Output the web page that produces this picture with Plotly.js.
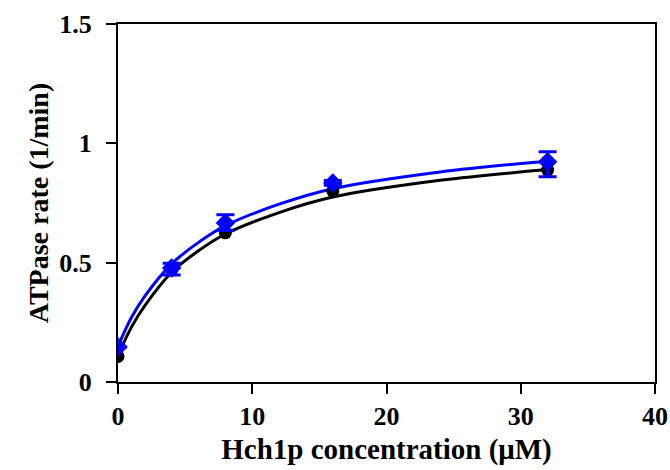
<!DOCTYPE html>
<html>
<head>
<meta charset="utf-8">
<script src="https://cdn.plot.ly/plotly-3.0.1.min.js"></script>
<style>html,body{margin:0;padding:0;background:#fff;}#chart{width:670px;height:470px;}</style>
</head>
<body>
<div id="chart"></div>
<script>
// Measured data points
const concentrations = [0, 4, 8, 16, 32];
const blackRates = [0.107, 0.47, 0.625, 0.80, 0.888];
const blueRates = [0.147, 0.478, 0.666, 0.834, 0.923];
const blueErrPlus = [0, 0.02, 0.035, 0.01, 0.042];
const blueErrMinus = [0, 0.03, 0.03, 0.01, 0.063];

// Fitted curves
const fitX = [0, 1, 2, 4, 6, 8, 12, 16, 24, 32];
const blackFit = [0.11, 0.23, 0.32, 0.46, 0.55, 0.62, 0.71, 0.775, 0.845, 0.89];
const blueFit = [0.15, 0.27, 0.36, 0.495, 0.585, 0.655, 0.745, 0.81, 0.88, 0.925];

const xTicks = [0, 10, 20, 30, 40];
const yTicks = [0, 0.5, 1, 1.5];
const yTickText = ['0', '0.5', '1', '1.5'];

const serif = 'Liberation Serif, Times New Roman, serif';
const pad = '<span style="font-size:18px;color:rgba(0,0,0,0)">0</span>';

const traces = [
  {x: fitX, y: blackFit, mode: 'lines', line: {color: '#000', width: 3, shape: 'spline'}, hoverinfo: 'skip'},
  {x: fitX, y: blueFit, mode: 'lines', line: {color: '#0000ff', width: 3, shape: 'spline'}, hoverinfo: 'skip'},
  {x: concentrations, y: blackRates, mode: 'markers', marker: {symbol: 'circle', size: 13, color: '#000'}},
  {x: concentrations, y: blueRates, mode: 'markers',
   marker: {symbol: 'diamond', size: 15, color: '#0000ff'},
   error_y: {type: 'data', symmetric: false, array: blueErrPlus, arrayminus: blueErrMinus, color: '#0000ff', thickness: 3, width: 9}}
];

const layout = {
  width: 670, height: 470,
  margin: {l: 117.5, r: 15, t: 24, b: 88},
  paper_bgcolor: '#fff', plot_bgcolor: '#fff',
  showlegend: false,
  font: {family: serif, color: '#000', size: 26},
  xaxis: {
    range: [0, 40], tickvals: xTicks, ticktext: xTicks.map(String),
    ticks: 'outside', ticklen: 10, tickwidth: 2, tickcolor: '#000',
    showline: true, linecolor: '#000', linewidth: 2, mirror: true,
    showgrid: false, zeroline: false,
    tickfont: {family: serif, size: 26, weight: 'bold'},
    title: {text: '<b>Hch1p concentration (μM)</b>', font: {family: serif, size: 29}, standoff: 8}
  },
  yaxis: {
    range: [0, 1.5], tickvals: yTicks, ticktext: yTickText.map(t => t + pad),
    ticks: 'outside', ticklen: 10, tickwidth: 2, tickcolor: '#000',
    showline: true, linecolor: '#000', linewidth: 2, mirror: true,
    showgrid: false, zeroline: false,
    tickfont: {family: serif, size: 26, weight: 'bold'},
    title: {text: '<b>ATPase rate (1/min)</b>', font: {family: serif, size: 28}, standoff: 2}
  }
};

Plotly.newPlot('chart', traces, layout, {displayModeBar: false, staticPlot: true});
</script>
</body>
</html>
